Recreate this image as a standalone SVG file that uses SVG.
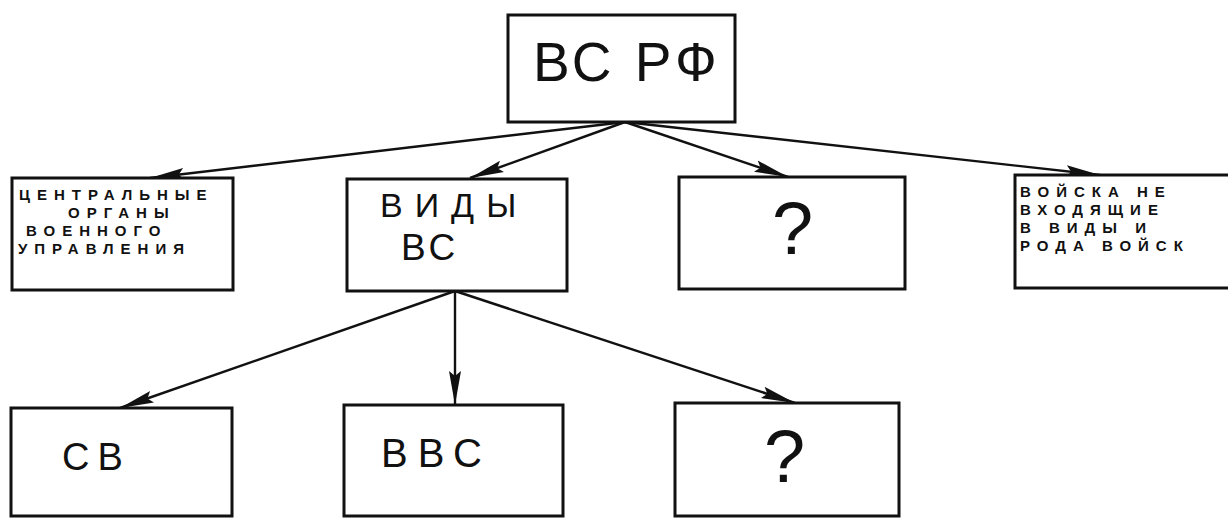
<svg xmlns="http://www.w3.org/2000/svg" width="1228" height="518" viewBox="0 0 1228 518">
<defs>
<marker id="ah" markerUnits="userSpaceOnUse" markerWidth="36" markerHeight="14" refX="34" refY="7" orient="auto">
<path d="M0,1 L34,7 L0,13 L5,7 z" fill="#111"/>
</marker>
<style>
.box{fill:#fff;stroke:#111;stroke-width:3}
.ln{stroke:#111;stroke-width:2.4;fill:none;marker-end:url(#ah)}
.t{font-family:"Liberation Sans","DejaVu Sans",sans-serif;fill:#111}
.s{font-size:15px;font-weight:bold;letter-spacing:7px}
</style>
</defs>
<rect width="1228" height="518" fill="#fff"/>
<g id="connectors">
<line class="ln" x1="625" y1="122" x2="150" y2="178"/>
<line class="ln" x1="625" y1="122" x2="470" y2="178"/>
<line class="ln" x1="625" y1="122" x2="788" y2="177"/>
<line class="ln" x1="625" y1="122" x2="1100" y2="175"/>
<line class="ln" x1="455" y1="291" x2="120" y2="408"/>
<line class="ln" x1="455" y1="291" x2="455" y2="405"/>
<line class="ln" x1="455" y1="291" x2="795" y2="403"/>
</g>
<g id="n-vsrf">
<rect class="box" x="508" y="15" width="227" height="107"/>
<text class="t" x="533" y="81" font-size="55" letter-spacing="4">ВС РФ</text>
</g>
<g id="n-central">
<rect class="box" x="12" y="178" width="221" height="112"/>
<text class="t s" x="19" y="200">ЦЕНТРАЛЬНЫЕ</text>
<text class="t s" x="68" y="218">ОРГАНЫ</text>
<text class="t s" x="26" y="236">ВОЕННОГО</text>
<text class="t s" x="18" y="254">УПРАВЛЕНИЯ</text>
</g>
<g id="n-vidy">
<rect class="box" x="347" y="179" width="220" height="112"/>
<text class="t" x="380" y="217" font-size="34" letter-spacing="12">ВИДЫ</text>
<text class="t" x="401" y="260" font-size="37" letter-spacing="4">ВС</text>
</g>
<g id="n-q1">
<rect class="box" x="679" y="177" width="226" height="112"/>
<text class="t" x="772" y="254" font-size="74" font-weight="300">?</text>
</g>
<g id="n-other">
<rect class="box" x="1015" y="175" width="230" height="113"/>
<text class="t s" x="1020" y="197">ВОЙСКА НЕ</text>
<text class="t s" x="1020" y="215">ВХОДЯЩИЕ</text>
<text class="t s" x="1020" y="233">В ВИДЫ И</text>
<text class="t s" x="1020" y="251">РОДА ВОЙСК</text>
</g>
<g id="n-sv">
<rect class="box" x="11" y="408" width="221" height="108"/>
<text class="t" x="62" y="470" font-size="38" letter-spacing="8">СВ</text>
</g>
<g id="n-vvs">
<rect class="box" x="344" y="405" width="219" height="111"/>
<text class="t" x="381" y="467" font-size="40" letter-spacing="10">ВВС</text>
</g>
<g id="n-q2">
<rect class="box" x="675" y="403" width="224" height="113"/>
<text class="t" x="764" y="482" font-size="74" font-weight="300">?</text>
</g>
</svg>
